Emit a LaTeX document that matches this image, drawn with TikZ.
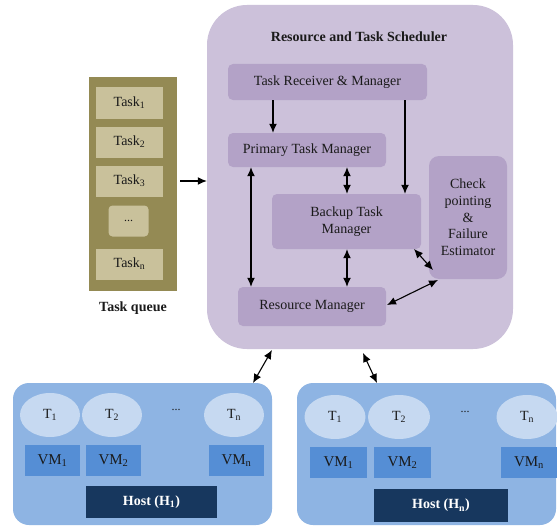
\documentclass[tikz,border=0pt]{standalone}
\usepackage{fontspec}
\setmainfont{Liberation Serif}
\usetikzlibrary{arrows.meta,shapes.geometric}
\definecolor{olivedark}{HTML}{948A54}
\definecolor{olivelight}{HTML}{C9C19B}
\definecolor{lav}{HTML}{CCC1DA}
\definecolor{lavbox}{HTML}{B3A2C7}
\definecolor{hostbg}{HTML}{8EB4E3}
\definecolor{ellc}{HTML}{C6D9F1}
\definecolor{vmc}{HTML}{558ED5}
\definecolor{navy}{HTML}{17375E}
\definecolor{txt}{HTML}{1A1A1A}
\tikzset{
  ff/.style={font=\fontsize{14}{17}\selectfont, text=txt},
  taskbox/.style={ff, fill=olivelight, minimum width=67pt, minimum height=31pt, inner sep=0pt},
  schedbox/.style={ff, fill=lavbox, rounded corners=5pt, inner sep=0pt, align=center},
  ell/.style={ff, ellipse, fill=ellc, minimum width=60pt, minimum height=44pt, inner sep=0pt},
  vmbox/.style={ff, font=\fontsize{15}{17}\selectfont, fill=vmc, minimum width=56pt, minimum height=31pt, inner sep=0pt},
  hostbox/.style={font=\bfseries\fontsize{14}{17}\selectfont, text=white, fill=navy, inner sep=0pt},
  hostbg/.style={fill=hostbg, rounded corners=16pt, minimum width=259pt, minimum height=142pt, inner sep=0pt},
  arr/.style={-{Latex[length=9pt,width=8pt]}, line width=1.1pt, black},
  darr/.style={{Latex[length=9pt,width=8pt]}-{Latex[length=9pt,width=8pt]}, line width=1.1pt, black},
}
\begin{document}
\begin{tikzpicture}[x=1pt,y=-1pt]
\useasboundingbox (0,0) rectangle (557,527);
\fill[white] (0,0) rectangle (557,527);
% Task queue
\node[fill=olivedark, minimum width=88pt, minimum height=214pt, inner sep=0pt] (queue) at (133,184) {};
\node[taskbox] (t1) at (129.5,103) {Task\textsubscript{1}};
\node[taskbox] (t2) at (129.5,142) {Task\textsubscript{2}};
\node[taskbox] (t3) at (129.5,181) {Task\textsubscript{3}};
\node[taskbox, minimum width=40pt, rounded corners=4pt] (tdots) at (128.5,221) {\fontsize{12}{14}\selectfont ...};
\node[taskbox] (tn) at (129.5,264) {Task\textsubscript{n}};
\node[font=\bfseries\fontsize{14}{17}\selectfont, text=txt] (qlabel) at (133,308) {Task queue};
% Scheduler
\node[fill=lav, rounded corners=40pt, minimum width=306pt, minimum height=344pt, inner sep=0pt] (sched) at (360,177) {};
\node[font=\bfseries\fontsize{14}{17}\selectfont, text=txt] (title) at (359,37) {Resource and Task Scheduler};
\node[schedbox, minimum width=199pt, minimum height=36pt] (trm) at (327.5,82) {Task Receiver \& Manager};
\node[schedbox, minimum width=158pt, minimum height=34pt] (ptm) at (307,150) {Primary Task Manager};
\node[schedbox, minimum width=149pt, minimum height=55pt] (btm) at (346.5,221.5) {Backup Task\\Manager};
\node[schedbox, minimum width=78pt, minimum height=123pt, rounded corners=10pt, font=\fontsize{14}{16.7}\selectfont] (cp) at (468,217.5) {Check\\pointing\\\&\\Failure\\Estimator};
\node[schedbox, minimum width=148pt, minimum height=39pt] (rm) at (312,306.5) {Resource Manager};
% arrows inside
\draw[arr] (queue.east |- 0,181) ++(3,0) -- (sched.west |- 0,181);
\draw[arr] (trm.south -| 273,0) -- (ptm.north -| 273,0);
\draw[arr] (trm.south -| 405,0) -- (btm.north -| 405,0);
\draw[darr] (ptm.south -| 251,0) -- (rm.north -| 251,0);
\draw[darr] (ptm.south -| 347,0) -- (btm.north -| 347,0);
\draw[darr] (btm.south -| 347,0) -- (rm.north -| 347,0);
\coordinate (bcorner) at (414,249);
\coordinate (cpa) at (433,270);
\draw[darr] (bcorner) -- (cpa);
\coordinate (rmr) at (387,305);
\coordinate (cpb) at (438,280);
\draw[darr] (rmr) -- (cpb);
% Host 1
\node[hostbg] (h1) at (142.5,454) {};
\node[ell] (a1) at (50,415) {T\textsubscript{1}};
\node[ell] (a2) at (112,415) {T\textsubscript{2}};
\node[ell] (an) at (234,415) {T\textsubscript{n}};
\node[ff, font=\fontsize{12}{14}\selectfont] (adots) at (176,410) {...};
\node[vmbox, minimum width=55pt] (v1) at (52.5,460.5) {VM\textsubscript{1}};
\node[vmbox, minimum width=55pt] (v2) at (113.5,460.5) {VM\textsubscript{2}};
\node[vmbox, minimum width=55pt] (vn) at (236.5,460.5) {VM\textsubscript{n}};
\node[hostbox, minimum width=131pt, minimum height=32pt] (H1) at (151.5,502) {Host (H\textsubscript{1})};
% Host n
\node[hostbg] (hn) at (426.5,454) {};
\node[ell, minimum width=61pt] (b1) at (335,417) {T\textsubscript{1}};
\node[ell, minimum width=62pt] (b2) at (399,417) {T\textsubscript{2}};
\node[ell, minimum width=61pt] (bn) at (527,417) {T\textsubscript{n}};
\node[ff, font=\fontsize{12}{14}\selectfont] (bdots) at (465,412) {...};
\node[vmbox, minimum width=57pt] (w1) at (338.5,462.5) {VM\textsubscript{1}};
\node[vmbox, minimum width=57pt] (w2) at (402.5,462.5) {VM\textsubscript{2}};
\node[vmbox, minimum width=57pt] (wn) at (529,462.5) {VM\textsubscript{n}};
\node[hostbox, minimum width=134pt, minimum height=33pt] (Hn) at (441,505.5) {Host (H\textsubscript{n})};
% scheduler-host arrows
\coordinate (s1) at (272,350);
\coordinate (e1) at (253,383);
\draw[darr] (s1) -- (e1);
\coordinate (s2) at (363,353);
\coordinate (e2) at (377,383);
\draw[darr] (s2) -- (e2);
\end{tikzpicture}
\end{document}
